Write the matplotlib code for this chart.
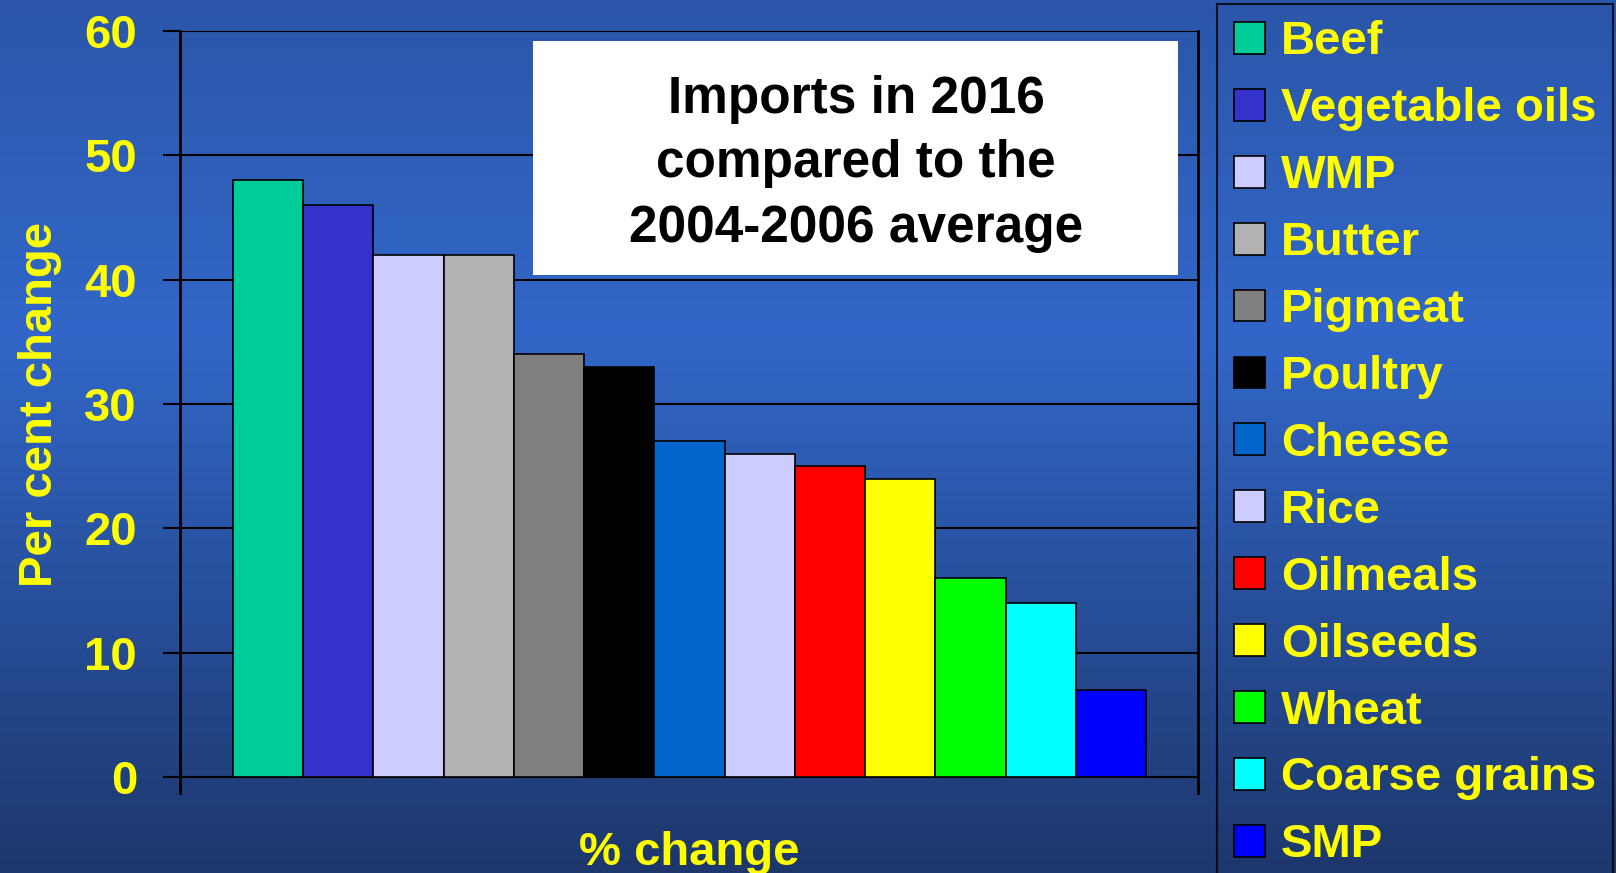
import numpy as np
import matplotlib
matplotlib.use("Agg")
import matplotlib.pyplot as plt
from matplotlib.colors import LinearSegmentedColormap
from matplotlib.patches import Rectangle

# Import growth by product, 2016 vs 2004-2006 average
products = ["Beef", "Vegetable oils", "WMP", "Butter", "Pigmeat", "Poultry",
            "Cheese", "Rice", "Oilmeals", "Oilseeds", "Wheat", "Coarse grains", "SMP"]
pct_change = [48, 46, 42, 42, 34, 33, 27, 26, 25, 24, 16, 14, 7]
bar_colors = ["#00CC99", "#3333CC", "#CCCCFF", "#B2B2B2", "#808080", "#000000",
              "#0066CC", "#CCCCFF", "#FF0000", "#FFFF00", "#00FF00", "#00FFFF", "#0000FF"]
y_ticks = [0, 10, 20, 30, 40, 50, 60]
title_lines = ["Imports in 2016", "compared to the", "2004-2006 average"]

W, H = 1616, 873
YELLOW = "#FFFF00"

plt.rcParams["font.family"] = ["Liberation Sans", "DejaVu Sans"]
plt.rcParams["font.weight"] = "bold"

fig = plt.figure(figsize=(W / 100, H / 100), dpi=100)

# slide background: vertical blue gradient
bg = fig.add_axes([0, 0, 1, 1], zorder=-10)
cmap = LinearSegmentedColormap.from_list(
    "slide", [(0.0, "#2B56A9"), (0.38, "#3267C9"), (1.0, "#1D376C")])
bg.imshow(np.linspace(0, 1, 256).reshape(-1, 1), cmap=cmap, aspect="auto",
          extent=[0, 1, 0, 1])
bg.axis("off")

# plot area in pixel terms
ax_left, ax_right, ax_top, ax_bottom = 180, 1198, 31, 793
ax = fig.add_axes([ax_left / W, (H - ax_bottom) / H,
                   (ax_right - ax_left) / W, (ax_bottom - ax_top) / H])
ax.set_facecolor("none")

x = np.arange(len(products))
bars = ax.bar(x, pct_change, width=1.0, color=bar_colors,
              edgecolor="black", linewidth=1.2, zorder=3)

ax.set_xlim(-1.255, 13.24)
ax.set_ylim(-1.29, 60)
ax.set_yticks(y_ticks)
ax.set_axisbelow(True)
ax.yaxis.grid(True, color="black", linewidth=1.5)
ax.xaxis.grid(False)

for side in ["top", "bottom"]:
    ax.spines[side].set_visible(False)
for side in ["left", "right"]:
    ax.spines[side].set_linewidth(2)
    ax.spines[side].set_color("black")

ax.tick_params(axis="y", direction="out", length=12.2, width=1.5, pad=18.7,
               labelsize=34, labelcolor=YELLOW, color="black")
ax.tick_params(axis="x", bottom=False, labelbottom=False)

ax.set_ylabel("Per cent change", fontsize=34, color=YELLOW, fontweight="bold")
ax.yaxis.set_label_coords(-0.116, 0.51)

fig.text(689 / W, 1 - 865 / H, "% change", ha="center", va="baseline",
         fontsize=34, color=YELLOW, fontweight="bold")

# white title box
fig.add_artist(Rectangle((533 / W, 1 - 275 / H), 645 / W, 234 / H,
                         transform=fig.transFigure, facecolor="white",
                         edgecolor="none", zorder=4))
first_baseline, line_step = 112.7, 64.5
for i, line in enumerate(title_lines):
    fig.text(856 / W, 1 - (first_baseline + i * line_step) / H, line,
             ha="center", va="baseline", fontsize=37, color="black",
             fontweight="bold", zorder=5)

leg = fig.legend(handles=list(bars), labels=products, loc="upper left",
                 bbox_to_anchor=(1216.5 / W, 1 - 3.5 / H), bbox_transform=fig.transFigure,
                 prop={"size": 34, "weight": "bold"}, labelcolor=YELLOW,
                 frameon=True, fancybox=False, edgecolor="black", facecolor="none",
                 borderaxespad=0, borderpad=0.36, handlelength=0.66, handleheight=0.66,
                 handletextpad=0.34, labelspacing=0.485)
leg.get_frame().set_linewidth(1.5)

fig.savefig("out.png", dpi=100)
